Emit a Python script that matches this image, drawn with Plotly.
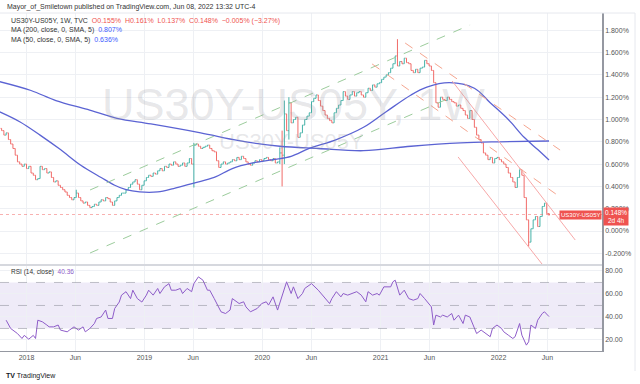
import pandas as pd
import plotly.graph_objects as go
from plotly.subplots import make_subplots

# ---------------- data ----------------
closes = [
    0.90, 0.86, 0.88, 0.82, 0.78, 0.74, 0.68, 0.62, 0.60, 0.58,
    0.60, 0.56, 0.58, 0.52, 0.50, 0.46, 0.47, 0.58, 0.55, 0.56,
    0.52, 0.53, 0.48, 0.44, 0.45, 0.41, 0.39, 0.37, 0.35, 0.32,
    0.30, 0.28, 0.30, 0.34, 0.30, 0.27, 0.25, 0.26, 0.23, 0.21,
    0.22, 0.24, 0.23, 0.26, 0.28, 0.27, 0.30, 0.29, 0.26, 0.23,
    0.27, 0.30, 0.32, 0.34, 0.34, 0.37, 0.39, 0.42, 0.44, 0.46,
    0.42, 0.37, 0.41, 0.45, 0.48, 0.50, 0.49, 0.52, 0.51, 0.54,
    0.56, 0.54, 0.58, 0.57, 0.60, 0.59, 0.62, 0.60, 0.58, 0.59,
    0.61, 0.58, 0.61, 0.65, 0.60, 0.77, 0.78, 0.76, 0.74, 0.75,
    0.76, 0.77, 0.74, 0.72, 0.71, 0.63, 0.57, 0.60, 0.62, 0.60,
    0.61, 0.62, 0.64, 0.63, 0.66, 0.64, 0.67, 0.65, 0.62, 0.60,
    0.59, 0.61, 0.63, 0.62, 0.64, 0.63, 0.65, 0.66, 0.64, 0.63,
    0.65, 0.61, 0.62, 0.70, 0.68, 1.05, 0.90, 1.15, 0.97, 1.00,
    1.02, 0.84, 0.88, 0.95, 1.00, 1.03, 1.06, 1.16, 1.19, 1.22,
    1.17, 1.12, 1.08, 1.04, 1.01, 0.99, 0.97, 1.06, 1.10, 1.13,
    1.17, 1.25, 1.21, 1.18, 1.22, 1.25, 1.21, 1.24, 1.25, 1.22,
    1.20, 1.24, 1.28, 1.26, 1.31, 1.29, 1.32, 1.33, 1.36, 1.38,
    1.40, 1.42, 1.46, 1.50, 1.57, 1.48, 1.52, 1.50, 1.55, 1.51,
    1.50, 1.44, 1.42, 1.45, 1.42, 1.46, 1.47, 1.53, 1.50, 1.48,
    1.44, 1.33, 1.15, 1.11, 1.20, 1.18, 1.17, 1.20, 1.18, 1.16,
    1.15, 1.12, 1.13, 1.10, 1.08, 1.04, 1.01, 1.08, 1.00, 0.93,
    0.86, 0.82, 0.79, 0.70, 0.68, 0.64, 0.66, 0.61, 0.65, 0.66,
    0.64, 0.62, 0.60, 0.57, 0.52, 0.48, 0.44, 0.39, 0.48, 0.55,
    0.50, 0.30, 0.10, -0.10, 0.02, 0.10, 0.13, 0.04, 0.13, 0.22,
    0.25, 0.155, 0.148,
]
first_open = 0.92
spike_high = {33: 0.37, 85: 0.79, 123: 0.75, 124: 0.90, 125: 1.17, 127: 1.20, 175: 1.72, 242: 0.161}
spike_low = {85: 0.39, 123: 0.60, 124: 0.40, 125: 0.60, 127: 0.82, 233: -0.14, 242: 0.137}

ma200_week = [-1, 13, 24, 38, 51, 66, 88, 105, 123, 140, 160, 181, 203, 220, 242]
ma200_val = [1.34, 1.26, 1.17, 1.09, 1.01, 0.96, 0.88, 0.81, 0.76, 0.74, 0.72, 0.76, 0.79, 0.80, 0.807]

ma50_week = [-1, 8, 17, 26, 35, 44, 50, 55, 61, 69, 76, 85, 94, 102, 111, 120, 128, 136,
             148, 160, 170, 181, 188, 198, 209, 216, 224, 231, 237, 242]
ma50_val = [1.07, 0.98, 0.86, 0.73, 0.59, 0.48, 0.41, 0.37, 0.35, 0.35, 0.38, 0.43, 0.48, 0.56,
            0.61, 0.64, 0.67, 0.74, 0.82, 0.93, 1.07, 1.22, 1.29, 1.33, 1.28, 1.15, 1.00, 0.84, 0.73, 0.636]

rsi_week = [2, 4, 7, 9, 10, 12, 14, 15, 16, 18,
            20, 21, 23, 25, 26, 29, 30, 32, 34, 36,
            37, 39, 41, 42, 44, 46, 47, 49, 50, 52,
            53, 55, 57, 58, 60, 62, 64, 65, 67, 69,
            70, 72, 74, 75, 77, 79, 80, 82, 84, 85,
            87, 89, 91, 92, 94, 96, 97, 99, 101, 102,
            103, 105, 107, 108, 110, 112, 113, 115, 117, 118,
            120, 122, 124, 125, 126, 128, 129, 131, 133, 134,
            137, 140, 142, 145, 146, 148, 150, 151, 153, 155,
            157, 159, 161, 162, 164, 166, 167, 169, 172, 173,
            174, 176, 178, 180, 182, 184, 185, 187, 189, 190,
            191, 192, 194, 195, 197, 199, 200, 202, 204, 205,
            207, 209, 210, 212, 214, 216, 217, 219, 221, 222,
            224, 226, 227, 229, 230, 232, 233, 234, 236, 237,
            239, 240, 242]
rsi_val = [37.2, 30, 25.6, 21.3, 24, 20.7, 24, 21.3, 37.2, 35.8,
           33, 31.4, 31.4, 33, 28.6, 27.1, 28.6, 31.4, 28.6, 31.4,
           27.1, 30, 34.3, 38.7, 40, 46, 38.7, 38.7, 47.4, 53,
           59, 62, 56, 63.3, 56, 53, 59, 63.3, 59, 64.8,
           60.4, 66.2, 69, 63.3, 63.3, 64.8, 60.4, 64.8, 62, 69,
           74.9, 72, 63.3, 63.3, 56, 47.4, 44.5, 43, 46, 56,
           54.6, 51.7, 53.2, 48.8, 44.5, 46, 47.4, 51.7, 53.2, 50.3,
           57.5, 46, 59, 66.2, 70.6, 60.4, 66.2, 56, 60.4, 64.8,
           69, 63.3, 59, 51.7, 56, 62, 57.5, 60.4, 59, 60.4,
           62, 59, 53.2, 62, 59, 60.4, 59, 66.2, 66.2, 70.6,
           72, 59, 63.3, 56, 54.6, 56, 60.4, 56, 51.7, 48.8,
           33, 41.6, 40, 41.6, 40, 43, 37.2, 41.6, 34.3, 41.6,
           40, 31.4, 25.6, 28.6, 25.6, 22.8, 30, 33, 30, 27.1,
           24.2, 21.3, 22.8, 34.3, 24.2, 15.5, 18.4, 33, 30, 37.2,
           43, 44.5, 40.36]

# drawn trend lines: (week index, value) pairs
green_lines = [((39.1, 0.368), (207.1, 1.848)), ((39.1, -0.197), (196.1, 1.175))]
red_dashed_lines = [((178.4, 1.686), (246.9, 0.726)), ((163.8, 1.498), (246.9, 0.305))]
red_solid_lines = [((199.2, 1.345), (253.6, -0.081)), ((201.8, 0.664), (240.3, -0.332))]

x_ticks = ["2018-01-01", "2018-06-01", "2019-01-01", "2019-06-01", "2020-01-01", "2020-06-01",
           "2021-01-01", "2021-06-01", "2022-01-01", "2022-06-01"]
x_tick_text = ["2018", "Jun", "2019", "Jun", "2020", "Jun", "2021", "Jun", "2022", "Jun"]
y_ticks = [-0.2, 0.0, 0.2, 0.4, 0.6, 0.8, 1.0, 1.2, 1.4, 1.6, 1.8]
rsi_ticks = [20, 40, 60, 80]
last_price = 0.148

# ---------------- build ----------------
start = pd.Timestamp("2017-10-16")


def wk(i):
    return start + pd.Timedelta(days=7 * i)


dates = [wk(i) for i in range(len(closes))]
opens = [first_open] + closes[:-1]
highs = [spike_high.get(i, max(o, c)) for i, (o, c) in enumerate(zip(opens, closes))]
lows = [spike_low.get(i, min(o, c)) for i, (o, c) in enumerate(zip(opens, closes))]

UP = "#26a69a"
DOWN = "#ef5350"
BLUE = "#5b63d3"
PURPLE = "#8e5cc9"
FONT = "Liberation Sans, Arial, sans-serif"

fig = make_subplots(rows=2, cols=1, shared_xaxes=True, vertical_spacing=0.0,
                    row_heights=[0.7456, 0.2544])

fig.add_trace(go.Ohlc(x=dates, open=opens, high=highs, low=lows, close=closes,
                      increasing_line_color=UP, decreasing_line_color=DOWN,
                      line_width=1, tickwidth=0.45, hoverinfo="skip", showlegend=False,
                      opacity=0.85), row=1, col=1)
fig.add_trace(go.Scatter(x=[wk(i) for i in ma200_week], y=ma200_val, mode="lines",
                         line=dict(color=BLUE, width=1.3, shape="spline", smoothing=1.0),
                         hoverinfo="skip", showlegend=False), row=1, col=1)
fig.add_trace(go.Scatter(x=[wk(i) for i in ma50_week], y=ma50_val, mode="lines",
                         line=dict(color=BLUE, width=1.3, shape="spline", smoothing=1.0),
                         hoverinfo="skip", showlegend=False), row=1, col=1)
fig.add_trace(go.Scatter(x=[wk(i) for i in rsi_week], y=rsi_val, mode="lines",
                         line=dict(color=PURPLE, width=1), hoverinfo="skip", showlegend=False),
              row=2, col=1)

for (a, b) in green_lines:
    fig.add_shape(type="line", x0=wk(a[0]), y0=a[1], x1=wk(b[0]), y1=b[1], xref="x", yref="y",
                  line=dict(color="#9ccc9c", width=1, dash="dash"))
for (a, b) in red_dashed_lines:
    fig.add_shape(type="line", x0=wk(a[0]), y0=a[1], x1=wk(b[0]), y1=b[1], xref="x", yref="y",
                  line=dict(color="#f5a58f", width=1, dash="dash"))
for (a, b) in red_solid_lines:
    fig.add_shape(type="line", x0=wk(a[0]), y0=a[1], x1=wk(b[0]), y1=b[1], xref="x", yref="y",
                  line=dict(color="#f7a8a8", width=1))

# RSI band and levels
fig.add_shape(type="rect", xref="x2 domain", yref="y2", x0=0, x1=1, y0=30, y1=70,
              fillcolor="rgba(126,87,194,0.12)", line_width=0, layer="below")
for lv in (30, 50, 70):
    fig.add_shape(type="line", xref="x2 domain", yref="y2", x0=0, x1=1, y0=lv, y1=lv,
                  line=dict(color="rgba(120,123,134,0.45)", width=1, dash="dash"))

# last price line
fig.add_shape(type="line", xref="x domain", yref="y", x0=0, x1=1, y0=last_price, y1=last_price,
              line=dict(color="rgba(239,83,80,0.45)", width=1, dash="dot"))

x_range = [pd.Timestamp("2017-10-11"), pd.Timestamp("2022-11-17")]
grid = "#eef0f4"
fig.update_xaxes(range=x_range, showgrid=True, gridcolor=grid, tickvals=x_ticks, ticktext=x_tick_text,
                 rangeslider_visible=False, zeroline=False, showline=False)
fig.update_xaxes(showticklabels=False, row=1, col=1)
fig.update_xaxes(showticklabels=True, ticks="", tickfont=dict(size=7, color="#555", family=FONT),
                 showline=True, linecolor="#9598a1", linewidth=1, row=2, col=1)
fig.update_yaxes(side="right", showgrid=True, gridcolor=grid, zeroline=False,
                 tickfont=dict(size=7, color="#555", family=FONT), ticks="", showline=True,
                 linecolor="#9598a1", linewidth=1.5)
fig.update_yaxes(range=[-0.305, 1.955], tickvals=y_ticks,
                 ticktext=[f"{v:.3f}%" for v in y_ticks], row=1, col=1)
fig.update_yaxes(range=[10.4, 85.2], tickvals=rsi_ticks,
                 ticktext=[f"{v:.2f}" for v in rsi_ticks], row=2, col=1)

# pane separator and frame
fig.add_shape(type="line", xref="paper", yref="paper", x0=0, x1=1, y0=0.2544, y1=0.2544,
              line=dict(color="#d6d8de", width=2))
fig.add_shape(type="line", xref="paper", yref="paper", x0=0, x1=635 / 602, y0=1, y1=1,
              line=dict(color="#e6e8ee", width=1))
fig.add_shape(type="line", xref="paper", yref="paper", x0=635 / 602, x1=635 / 602, y0=1,
              y1=-20 / 338, line=dict(color="#e6e8ee", width=1))

ann = []
def label(text, x, y, size=7, color="#333", family=FONT, **kw):
    ann.append(dict(text=text, x=x, y=y, xref="paper", yref="paper", showarrow=False,
                    font=dict(size=size, color=color, family=family), **kw))

def px(xp):
    return xp / 602.0

def py(yp):
    return (351.0 - yp) / 338.0

label("Mayor_of_Smiletown published on TradingView.com, Jun 08, 2022 13:32 UTC-4",
      px(5), py(7.5), xanchor="left", yanchor="middle")
label("US30Y-US05Y, 1W, TVC  <span style='color:#ef5350'>O0.155%  H0.161%  L0.137%  C0.148%  "
      "\u22120.005% (\u22123.27%)</span>", px(9), py(21.5), xanchor="left", yanchor="middle")
label("MA (200, close, 0, SMA, 5)  <span style='color:#3d5afe'>0.807%</span>",
      px(9), py(30.5), xanchor="left", yanchor="middle")
label("MA (50, close, 0, SMA, 5)  <span style='color:#3d5afe'>0.636%</span>",
      px(9), py(39.5), xanchor="left", yanchor="middle")
label("RSI (14, close)  <span style='color:#8e5cc9'>40.36</span>",
      px(9), py(272), xanchor="left", yanchor="middle", size=6.5)
# watermark
label("US30Y-US05Y, 1W", px(293), py(104), size=45, color="rgba(150,153,160,0.24)",
      xanchor="center", yanchor="middle")
label("US30Y-US05Y", px(291), py(141), size=22, color="rgba(150,153,160,0.24)",
      xanchor="center", yanchor="middle")
# price tags
ann.append(dict(text="0.148%<br>2d 4h", x=1, y=last_price, xref="paper", yref="y",
                xanchor="left", yanchor="middle", showarrow=False, bgcolor=DOWN,
                font=dict(size=6.5, color="white", family=FONT), borderpad=1, xshift=1, yshift=-2))
ann.append(dict(text="US30Y-US05Y", x=1, y=last_price, xref="paper", yref="y",
                xanchor="right", yanchor="middle", showarrow=False, bgcolor=DOWN,
                font=dict(size=6, color="white", family=FONT), borderpad=1))
# TradingView logo
label("<b>TV</b> TradingView", px(4), py(376), size=7, color="#131722",
      xanchor="left", yanchor="middle")

fig.update_layout(width=640, height=384, margin=dict(l=0, r=38, t=13, b=33),
                  paper_bgcolor="white", plot_bgcolor="white", annotations=ann,
                  showlegend=False)
fig.write_html("out.html", config={"displayModeBar": False},
               post_script="document.body.style.margin='0';document.body.style.overflow='hidden';")
